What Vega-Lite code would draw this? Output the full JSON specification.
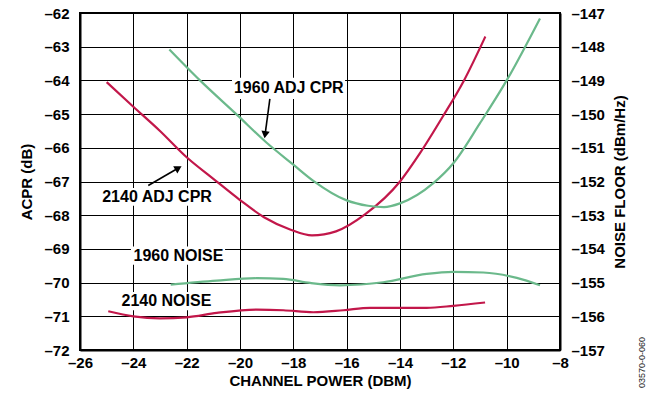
{
  "$schema": "https://vega.github.io/schema/vega-lite/v6.json",
  "width": 480,
  "height": 337,
  "autosize": "none",
  "padding": {"left": 80, "top": 13, "right": 95, "bottom": 44},
  "title": {"text": "03570-0-060", "orient": "right", "anchor": "end", "align": "left", "angle": 270, "baseline": "middle", "fontSize": 9, "font": "Liberation Sans", "fontWeight": "normal", "color": "#222", "offset": 6},
  "config": {
    "view": {"stroke": "black", "strokeWidth": 2},
    "font": "Liberation Sans",
    "axis": {
      "labelFont": "Liberation Sans", "labelFontWeight": "bold", "labelFontSize": 15, "labelColor": "black",
      "titleFont": "Liberation Sans", "titleFontWeight": "bold", "titleFontSize": 15, "titleColor": "black",
      "domainColor": "black", "domainWidth": 2, "ticks": false,
      "gridColor": "black", "gridWidth": 1, "gridOpacity": 1,
      "labelOverlap": false, "labelFlush": false, "labelBound": false
    }
  },
  "datasets": {
    "adj": [
      {"series": "2140", "power": -25, "acpr": -64.05},
      {"series": "2140", "power": -24, "acpr": -64.78},
      {"series": "2140", "power": -23, "acpr": -65.5},
      {"series": "2140", "power": -22, "acpr": -66.28},
      {"series": "2140", "power": -21, "acpr": -66.92},
      {"series": "2140", "power": -20, "acpr": -67.55},
      {"series": "2140", "power": -19.1, "acpr": -68.06},
      {"series": "2140", "power": -18.1, "acpr": -68.43},
      {"series": "2140", "power": -17.3, "acpr": -68.6},
      {"series": "2140", "power": -16.4, "acpr": -68.48},
      {"series": "2140", "power": -15.3, "acpr": -67.97},
      {"series": "2140", "power": -14, "acpr": -67.0},
      {"series": "2140", "power": -13.25, "acpr": -66.16},
      {"series": "2140", "power": -12.4, "acpr": -65.08},
      {"series": "2140", "power": -11.6, "acpr": -64.0},
      {"series": "2140", "power": -10.8, "acpr": -62.7},
      {"series": "1960", "power": -22.65, "acpr": -63.08},
      {"series": "1960", "power": -21.5, "acpr": -64.0},
      {"series": "1960", "power": -20.1, "acpr": -65.03},
      {"series": "1960", "power": -19.0, "acpr": -65.85},
      {"series": "1960", "power": -18.0, "acpr": -66.5},
      {"series": "1960", "power": -17.25, "acpr": -66.98},
      {"series": "1960", "power": -16.0, "acpr": -67.56},
      {"series": "1960", "power": -15.2, "acpr": -67.72},
      {"series": "1960", "power": -14.6, "acpr": -67.76},
      {"series": "1960", "power": -14.0, "acpr": -67.65},
      {"series": "1960", "power": -12.75, "acpr": -67.05},
      {"series": "1960", "power": -12.0, "acpr": -66.46},
      {"series": "1960", "power": -11.0, "acpr": -65.27},
      {"series": "1960", "power": -10.0, "acpr": -64.0},
      {"series": "1960", "power": -8.75, "acpr": -62.16}
    ],
    "noise": [
      {"series": "1960", "power": -22.6, "floor": -155.06},
      {"series": "1960", "power": -20.87, "floor": -154.94},
      {"series": "1960", "power": -19.37, "floor": -154.87},
      {"series": "1960", "power": -18.38, "floor": -154.89},
      {"series": "1960", "power": -17.37, "floor": -155.01},
      {"series": "1960", "power": -16.25, "floor": -155.08},
      {"series": "1960", "power": -14.63, "floor": -154.99},
      {"series": "1960", "power": -13.0, "floor": -154.74},
      {"series": "1960", "power": -12.0, "floor": -154.68},
      {"series": "1960", "power": -10.88, "floor": -154.7},
      {"series": "1960", "power": -9.62, "floor": -154.86},
      {"series": "1960", "power": -8.75, "floor": -155.08},
      {"series": "2140", "power": -24.94, "floor": -155.85},
      {"series": "2140", "power": -24.0, "floor": -156.0},
      {"series": "2140", "power": -23.0, "floor": -156.06},
      {"series": "2140", "power": -22.0, "floor": -156.03},
      {"series": "2140", "power": -20.87, "floor": -155.9},
      {"series": "2140", "power": -19.37, "floor": -155.8},
      {"series": "2140", "power": -18.37, "floor": -155.82},
      {"series": "2140", "power": -17.25, "floor": -155.88},
      {"series": "2140", "power": -16.12, "floor": -155.82},
      {"series": "2140", "power": -15.12, "floor": -155.75},
      {"series": "2140", "power": -13.0, "floor": -155.75},
      {"series": "2140", "power": -12.0, "floor": -155.69},
      {"series": "2140", "power": -10.81, "floor": -155.59}
    ],
    "labels": [
      {"label": "1960 ADJ CPR", "power": -18.17, "acpr": -64.23, "p1": -20.3, "p2": -16.06, "a1": -63.92, "a2": -64.55},
      {"label": "2140 ADJ CPR", "power": -23.11, "acpr": -67.46, "p1": -25.21, "p2": -21.01, "a1": -67.19, "a2": -67.72},
      {"label": "1960 NOISE", "power": -22.31, "acpr": -69.2, "p1": -24.09, "p2": -20.56, "a1": -68.93, "a2": -69.47},
      {"label": "2140 NOISE", "power": -22.76, "acpr": -70.55, "p1": -24.54, "p2": -21.05, "a1": -70.28, "a2": -70.82}
    ],
    "arrows": [
      {"arrow": "1960", "power": -18.88, "acpr": -64.55},
      {"arrow": "1960", "power": -19.06, "acpr": -65.61},
      {"arrow": "2140", "power": -23.44, "acpr": -67.12},
      {"arrow": "2140", "power": -22.31, "acpr": -66.6}
    ],
    "heads": [
      {"arrow": "1960", "power": -19.06, "acpr": -65.61},
      {"arrow": "2140", "power": -22.31, "acpr": -66.6}
    ]
  },
  "encoding": {
    "x": {
      "field": "power", "type": "quantitative",
      "scale": {"domain": [-26, -8], "nice": false, "zero": false},
      "axis": {"values": [-26, -24, -22, -20, -18, -16, -14, -12, -10, -8], "grid": true, "labelPadding": 5, "titlePadding": 3, "title": "CHANNEL POWER (DBM)", "labelFontWeight": "bold", "labelExpr": "'–' + abs(datum.value)"}
    }
  },
  "layer": [
    {
      "layer": [
        {
          "data": {"name": "labels"},
          "mark": {"type": "rect", "fill": "white"},
          "encoding": {
            "x": {"field": "p1", "type": "quantitative"},
            "x2": {"field": "p2"},
            "y": {"field": "a1", "type": "quantitative", "scale": {"domain": [-72, -62], "nice": false, "zero": false}, "axis": {"title": "ACPR (dB)", "values": [-72, -71, -70, -69, -68, -67, -66, -65, -64, -63, -62], "grid": true, "labelPadding": 11, "titlePadding": 9, "labelFontWeight": "bold", "labelExpr": "'–' + abs(datum.value)"}},
            "y2": {"field": "a2"}
          }
        },
        {
          "data": {"name": "adj"},
          "mark": {"type": "line", "interpolate": "monotone", "strokeWidth": 2.2},
          "encoding": {
            "y": {"field": "acpr", "type": "quantitative", "axis": {"title": "ACPR (dB)", "values": [-72, -71, -70, -69, -68, -67, -66, -65, -64, -63, -62], "grid": true, "labelPadding": 11, "titlePadding": 9, "labelFontWeight": "bold", "labelExpr": "'–' + abs(datum.value)"}},
            "color": {"field": "series", "type": "nominal", "scale": {"domain": ["1960", "2140"], "range": ["#6BB98B", "#C2174A"]}, "legend": null}
          }
        },
        {
          "data": {"name": "arrows"},
          "mark": {"type": "line", "color": "black", "strokeWidth": 1.6},
          "encoding": {
            "y": {"field": "acpr", "type": "quantitative", "axis": {"title": "ACPR (dB)", "values": [-72, -71, -70, -69, -68, -67, -66, -65, -64, -63, -62], "grid": true, "labelPadding": 11, "titlePadding": 9, "labelFontWeight": "bold", "labelExpr": "'–' + abs(datum.value)"}},
            "detail": {"field": "arrow", "type": "nominal"}
          }
        },
        {
          "data": {"name": "heads"},
          "mark": {"type": "point", "shape": "triangle-up", "filled": true, "color": "black", "size": 70, "opacity": 1},
          "encoding": {
            "y": {"field": "acpr", "type": "quantitative", "axis": {"title": "ACPR (dB)", "values": [-72, -71, -70, -69, -68, -67, -66, -65, -64, -63, -62], "grid": true, "labelPadding": 11, "titlePadding": 9, "labelFontWeight": "bold", "labelExpr": "'–' + abs(datum.value)"}},
            "angle": {"field": "arrow", "type": "nominal", "scale": {"domain": ["1960", "2140"], "range": [188, 60]}, "legend": null}
          }
        },
        {
          "data": {"name": "labels"},
          "mark": {"type": "text", "font": "Liberation Sans", "fontWeight": "bold", "fontSize": 16, "color": "black", "align": "center", "baseline": "middle"},
          "encoding": {
            "y": {"field": "acpr", "type": "quantitative", "axis": {"title": "ACPR (dB)", "values": [-72, -71, -70, -69, -68, -67, -66, -65, -64, -63, -62], "grid": true, "labelPadding": 11, "titlePadding": 9, "labelFontWeight": "bold", "labelExpr": "'–' + abs(datum.value)"}},
            "text": {"field": "label"}
          }
        }
      ]
    },
    {
      "data": {"name": "noise"},
      "mark": {"type": "line", "interpolate": "monotone", "strokeWidth": 2.2},
      "encoding": {
        "y": {"field": "floor", "type": "quantitative", "scale": {"domain": [-157, -147], "nice": false, "zero": false}, "axis": {"orient": "right", "title": "NOISE FLOOR (dBm/Hz)", "titleAngle": 270, "titleBaseline": "top", "values": [-157, -156, -155, -154, -153, -152, -151, -150, -149, -148, -147], "grid": false, "labelPadding": 11, "titlePadding": 8, "labelFontWeight": "bold", "labelExpr": "'–' + abs(datum.value)"}},
        "color": {"field": "series", "type": "nominal", "legend": null}
      }
    }
  ],
  "resolve": {"scale": {"y": "independent"}}
}
